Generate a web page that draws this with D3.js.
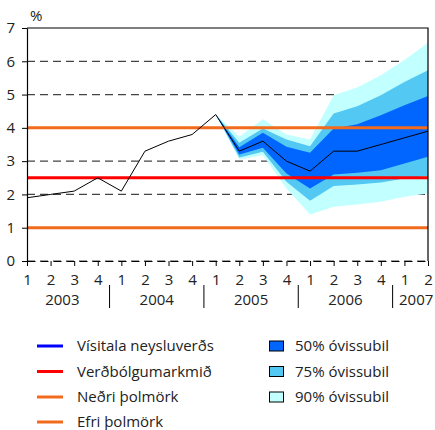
<!DOCTYPE html>
<html lang="is">
  <head>
    <meta charset="utf-8">
    <title>Verðbólguspá</title>
    <style>
      body { margin: 0; background: #fff; }
      svg text { font-family: "Open Sans", "Noto Sans", sans-serif; fill: #222; }
    </style>
  </head>
  <body>
    <svg width="435" height="430"></svg>
    <script src="https://d3js.org/d3.v7.min.js"></script>
    <script>
      // quarters 2003Q1 .. 2007Q2
      var quarterLabels = ["1","2","3","4","1","2","3","4","1","2","3","4","1","2","3","4","1","2"];
      var yearLabels = ["2003","2004","2005","2006","2007"];
      var yearFirst = [0, 4, 8, 12, 16];
      var yearLast = [3, 7, 11, 15, 17];
      var yTicks = [0, 1, 2, 3, 4, 5, 6, 7];

      // vísitala neysluverðs, 12 month change %
      var cpi = [1.9, 2.0, 2.1, 2.5, 2.1, 3.3, 3.6, 3.8, 4.4, 3.3, 3.6, 3.0, 2.7, 3.3, 3.3, 3.5, 3.7, 3.9];

      // uncertainty bands, start at index 8 (2005Q1)
      var fanStart = 8;
      var lo90 = [4.4, 3.05, 3.18, 2.18, 1.40, 1.63, 1.70, 1.78, 1.93, 2.03];
      var lo75 = [4.4, 3.11, 3.28, 2.38, 1.81, 2.25, 2.30, 2.36, 2.48, 2.56];
      var lo50 = [4.4, 3.20, 3.40, 2.63, 2.18, 2.60, 2.65, 2.73, 2.93, 3.13];
      var hi50 = [4.4, 3.42, 3.85, 3.43, 3.25, 3.98, 4.11, 4.38, 4.68, 4.96];
      var hi75 = [4.4, 3.55, 3.98, 3.65, 3.45, 4.43, 4.65, 4.98, 5.38, 5.73];
      var hi90 = [4.4, 3.73, 4.26, 3.80, 3.65, 4.98, 5.21, 5.58, 6.04, 6.56];

      var target = 2.5, lowerBound = 1, upperBound = 4;

      var svg = d3.select("svg");
      var x = d3.scaleLinear().domain([0, 17]).range([27, 428]);
      var y = d3.scaleLinear().domain([0, 7]).range([261, 28]);

      // dashed grid
      svg.append("g")
        .selectAll("line")
        .data(yTicks.filter(d => d !== 1 && d !== 4 && d !== 7))
        .enter()
        .append("line")
        .attr("x1", x(0)).attr("x2", x(17))
        .attr("y1", d => y(d)).attr("y2", d => y(d))
        .attr("stroke", "#444")
        .attr("stroke-width", 1.2)
        .attr("stroke-dasharray", "8,5");

      // fan chart
      var bands = [
        { lo: lo90, hi: hi90, color: "#c2ffff" },
        { lo: lo75, hi: hi75, color: "#52c8f2" },
        { lo: lo50, hi: hi50, color: "#0066ff" }
      ];
      var area = d3.area()
        .x((d, i) => x(fanStart + i))
        .y0(d => y(d[0]))
        .y1(d => y(d[1]));
      svg.append("g")
        .selectAll("path")
        .data(bands)
        .enter()
        .append("path")
        .attr("d", b => area(b.lo.map((v, i) => [v, b.hi[i]])))
        .attr("fill", b => b.color);

      // reference lines
      var refs = [
        { v: lowerBound, color: "#f26b1d" },
        { v: upperBound, color: "#f26b1d" },
        { v: target, color: "#ff0000" }
      ];
      svg.append("g")
        .selectAll("line")
        .data(refs)
        .enter()
        .append("line")
        .attr("x1", x(0)).attr("x2", x(17))
        .attr("y1", d => y(d.v)).attr("y2", d => y(d.v))
        .attr("stroke", d => d.color)
        .attr("stroke-width", 3);

      // cpi line
      svg.append("path")
        .datum(cpi)
        .attr("d", d3.line().x((d, i) => x(i)).y(d => y(d)))
        .attr("fill", "none")
        .attr("stroke", "#000")
        .attr("stroke-width", 1);

      // frame top / right
      svg.append("path")
        .attr("d", "M" + x(0) + "," + y(7) + "H" + x(17) + "V" + y(0))
        .attr("fill", "none")
        .attr("stroke", "#000")
        .attr("stroke-width", 1.2);

      // y axis
      var yAxis = svg.append("g")
        .attr("transform", "translate(" + x(0) + ",0)")
        .call(d3.axisLeft(y).tickValues(yTicks).tickFormat(d3.format("d"))
              .tickSize(5).tickPadding(7).tickSizeOuter(0));
      yAxis.selectAll("text").style("font-size", "15px").attr("fill", "#222");
      yAxis.select(".domain").attr("stroke", "#000").attr("stroke-width", 1.2);

      // x axis
      var xAxis = svg.append("g")
        .attr("transform", "translate(0," + y(0) + ")")
        .call(d3.axisBottom(x).tickValues(d3.range(18)).tickFormat(i => quarterLabels[i])
              .tickSize(5).tickPadding(8).tickSizeOuter(0));
      xAxis.selectAll("text").style("font-size", "15px").attr("fill", "#222");
      xAxis.select(".domain").attr("stroke", "#000").attr("stroke-dasharray", "8,5").attr("stroke-width", 1.2);

      // years
      svg.append("g")
        .selectAll("text")
        .data(yearLabels)
        .enter()
        .append("text")
        .attr("x", (d, i) => x((yearFirst[i] + yearLast[i]) / 2))
        .attr("y", 305)
        .attr("text-anchor", "middle")
        .style("font-size", "15px")
        .text(d => d);
      svg.append("g")
        .selectAll("line")
        .data(yearFirst.slice(1))
        .enter()
        .append("line")
        .attr("x1", d => x(d - 0.5)).attr("x2", d => x(d - 0.5))
        .attr("y1", 285).attr("y2", 308)
        .attr("stroke", "#000");

      svg.append("text")
        .attr("x", 30).attr("y", 21)
        .style("font-size", "15px")
        .text("%");

      // legend
      var lineLegend = [
        { label: "Vísitala neysluverðs", color: "#0000ff" },
        { label: "Verðbólgumarkmið", color: "#ff0000" },
        { label: "Neðri þolmörk", color: "#f26b1d" },
        { label: "Efri þolmörk", color: "#f26b1d" }
      ];
      var rowY = [346, 371.5, 397, 422];
      var lg = svg.append("g").selectAll("g")
        .data(lineLegend)
        .enter()
        .append("g")
        .attr("transform", (d, i) => "translate(0," + rowY[i] + ")");
      lg.append("line")
        .attr("x1", 37).attr("x2", 63)
        .attr("stroke", d => d.color)
        .attr("stroke-width", 3);
      lg.append("text")
        .attr("x", 77).attr("dy", "0.35em")
        .style("font-size", "15px")
        .text(d => d.label);

      var bandLegend = [
        { label: "50% óvissubil", color: "#0066ff" },
        { label: "75% óvissubil", color: "#52c8f2" },
        { label: "90% óvissubil", color: "#c2ffff" }
      ];
      var bg = svg.append("g").selectAll("g")
        .data(bandLegend)
        .enter()
        .append("g")
        .attr("transform", (d, i) => "translate(0," + rowY[i] + ")");
      bg.append("rect")
        .attr("x", 269.5).attr("y", -5)
        .attr("width", 14).attr("height", 10)
        .attr("fill", d => d.color)
        .attr("stroke", "#000");
      bg.append("text")
        .attr("x", 295).attr("dy", "0.35em")
        .style("font-size", "15px")
        .text(d => d.label);
    </script>
  </body>
</html>
